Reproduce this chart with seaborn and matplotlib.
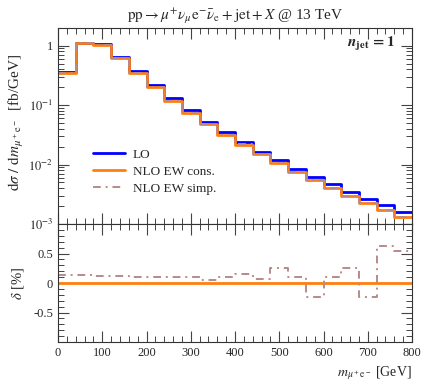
import numpy as np
import pandas as pd
import seaborn as sns
import matplotlib
matplotlib.use("Agg")
import matplotlib.pyplot as plt
from matplotlib.ticker import MultipleLocator, LogLocator, NullFormatter, FixedLocator, FixedFormatter

# ---- data ----
bin_edges = [0, 40, 80, 120, 160, 200, 240, 280, 320, 360, 400,
             440, 480, 520, 560, 600, 640, 680, 720, 760, 800]
lo = [0.355, 1.12, 1.05, 0.654, 0.377, 0.220, 0.131, 0.0815, 0.0521, 0.0354,
      0.0237, 0.01637, 0.01172, 0.00828, 0.00615, 0.00464, 0.00345, 0.00267,
      0.00207, 0.00162]
nlo_ew_cons = [0.345, 1.10, 1.03, 0.615, 0.349, 0.203, 0.118, 0.0739, 0.0476, 0.0319,
               0.0217, 0.01478, 0.0105, 0.00749, 0.00542, 0.00405, 0.00298, 0.00228,
               0.00174, 0.00131]
delta_simp_pct = [0.13, 0.13, 0.12, 0.12, 0.11, 0.11, 0.10, 0.10, 0.045, 0.10,
                  0.145, 0.068, 0.25, 0.11, -0.23, 0.10, 0.25, -0.235, 0.635, 0.55]

edges = np.array(bin_edges, dtype=float)
lo = np.array(lo)
cons = np.array(nlo_ew_cons)
dsimp = np.array(delta_simp_pct)
simp = cons * (1 + dsimp / 100.0)

def step_df(vals):
    return pd.DataFrame({"x": edges, "y": np.append(vals, vals[-1])})

sns.set_theme(style="ticks")
plt.rcParams["font.family"] = ["Liberation Serif", "DejaVu Serif"]
plt.rcParams["mathtext.fontset"] = "stix"

BLUE = "#0000ff"
ORANGE = "#ff7f0e"
ROSY = "#b98a8a"
DASHDOT = (0, (4, 2.5, 1, 2.5))

fig = plt.figure(figsize=(4.27, 3.82), dpi=100)
ax = fig.add_axes([58/427, 1 - 224/382, 354/427, (224 - 27.7)/382])
axr = fig.add_axes([58/427, 1 - 342/382, 354/427, 118/382], sharex=ax)

sns.lineplot(data=step_df(lo), x="x", y="y", ax=ax, drawstyle="steps-post",
             color=BLUE, lw=2.0, label="LO", sort=False)
sns.lineplot(data=step_df(cons), x="x", y="y", ax=ax, drawstyle="steps-post",
             color=ORANGE, lw=2.0, label="NLO EW cons.", sort=False)
sns.lineplot(data=step_df(simp), x="x", y="y", ax=ax, drawstyle="steps-post",
             color=ROSY, lw=1.4, ls=DASHDOT, label="NLO EW simp.", sort=False)

sns.lineplot(data=step_df(np.zeros_like(cons)), x="x", y="y", ax=axr, drawstyle="steps-post",
             color=ORANGE, lw=2.0, sort=False)
sns.lineplot(data=step_df(dsimp), x="x", y="y", ax=axr, drawstyle="steps-post",
             color=ROSY, lw=1.4, ls=DASHDOT, sort=False)

ax.set_yscale("log")
ax.set_ylim(1e-3, 2.0)
ax.set_xlim(0, 800)
axr.set_ylim(-1, 1)

ax.yaxis.set_major_locator(FixedLocator([1e-3, 1e-2, 1e-1, 1]))
ax.yaxis.set_major_formatter(FixedFormatter([r"$10^{-3}$", r"$10^{-2}$", r"$10^{-1}$", "1"]))
ax.yaxis.set_minor_locator(LogLocator(base=10, subs=np.arange(2, 10), numticks=20))
ax.yaxis.set_minor_formatter(NullFormatter())

axr.xaxis.set_major_locator(MultipleLocator(100))
axr.xaxis.set_minor_locator(MultipleLocator(20))
axr.yaxis.set_major_locator(FixedLocator([-0.5, 0, 0.5]))
axr.yaxis.set_major_formatter(FixedFormatter(["-0.5", "0", "0.5"]))
axr.yaxis.set_minor_locator(MultipleLocator(0.1))
plt.setp(ax.get_xticklabels(), visible=False)

for a in (ax, axr):
    a.tick_params(which="both", direction="in", top=True, right=True,
                  labelsize=9, color="#444444")
    a.tick_params(which="major", length=8, width=0.8)
    a.tick_params(which="minor", length=4, width=0.7)
    for s in a.spines.values():
        s.set_color("#333333")
        s.set_linewidth(0.8)
    a.set_xlabel("")
    a.set_ylabel("")

ax.set_ylabel(r"$\mathrm{d}\sigma\ /\ \mathrm{d}m_{\mu^+\mathrm{e}^-}$  [fb/GeV]", fontsize=11)
ax.yaxis.set_label_coords(-0.09, 0.52)
axr.set_ylabel(r"$\delta$ [%]", fontsize=10.5)
axr.yaxis.set_label_coords(-0.09, 0.5)
axr.set_xlabel(r"$m_{\mu^+\mathrm{e}^-}$ [GeV]", fontsize=10, loc="right")

ax.set_title(r"$\mathrm{pp} \rightarrow \mu^{+}\nu_{\mu}\mathrm{e}^{-}\bar{\nu}_{\mathrm{e}} + \mathrm{jet} + X$ @ 13 TeV",
             fontsize=11, pad=6)
ax.text(0.95, 0.915, r"$\mathbfit{n}_{\mathbf{jet}}\,\mathbf{=1}$", transform=ax.transAxes,
        ha="right", va="center", fontsize=11)

leg = ax.legend(loc="upper left", bbox_to_anchor=(0.084, 0.41), frameon=False,
                fontsize=9.5, handlelength=2.4, handletextpad=0.6, labelspacing=0.35,
                borderaxespad=0)

fig.savefig("out.png", dpi=100)
